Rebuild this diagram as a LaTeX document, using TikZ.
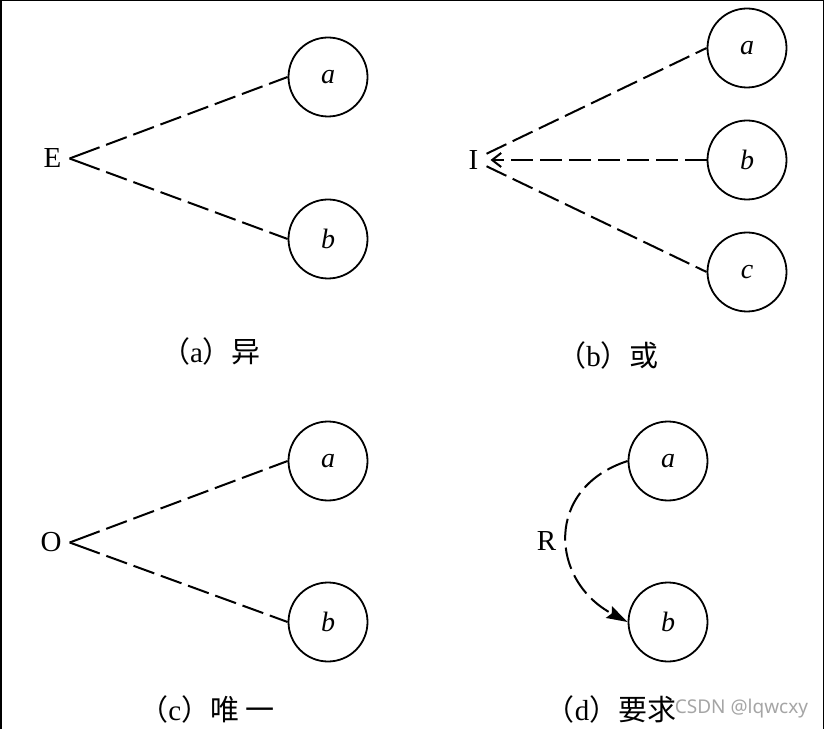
\documentclass[tikz,border=0pt]{standalone}
\usepackage{fontspec}
\setmainfont{Liberation Serif}
\newfontfamily\cjk{Noto Sans CJK SC}
\newfontfamily\wmfont{Noto Sans}
\usetikzlibrary{arrows.meta}
\definecolor{wmgray}{RGB}{165,165,165}

\begin{document}
\begin{tikzpicture}[
  x=1pt, y=1pt,
  ent/.style={draw, circle, line width=1.8pt, minimum size=79pt, inner sep=0pt, font=\fontsize{28}{32}\selectfont\itshape},
  rel/.style={inner sep=8pt, font=\fontsize{29}{34}\selectfont},
  subcap/.style={inner sep=0pt, font=\fontsize{29}{34}\selectfont},
  link/.style={line width=2pt, dash pattern=on 22pt off 7pt},
  chev/.style={line width=2pt, dash pattern=on 32pt off 7pt on 22pt off 7pt on 22pt off 7pt on 22pt off 7pt on 22pt off 7pt on 22pt off 7pt on 22pt off 7pt on 22pt off 7pt on 22pt off 7pt},
  orarrow/.style={link, -{Straight Barb[length=9pt,width=14pt]}},
  reqarrow/.style={link, -{Stealth[length=21pt,width=13pt,inset=3pt]}},
  wmark/.style={inner sep=0pt, text=wmgray, font=\wmfont\fontsize{19}{22}\selectfont}
]
\useasboundingbox (0,0) rectangle (824,729);
\draw[line width=1.5pt] (0.75,0) -- (0.75,728.25) -- (823.25,728.25) -- (823.25,0);

\node[rel] (E) at (52.5,570.5) {E};
\node[ent] (ea) at (328,652) {a};
\node[ent] (eb) at (328,490) {b};
\node[subcap] (capa) at (211,377.5) {{\cjk （}a{\cjk ）异}};

\node[rel] (I) at (473.5,569) {I};
\node[ent] (ia) at (747,681) {a};
\node[ent] (ib) at (747,569) {b};
\node[ent] (ic) at (747,457) {c};
\node[subcap] (capb) at (608,374) {{\cjk （}b{\cjk ）或}};

\node[rel] (O) at (51,186.5) {O};
\node[ent] (oa) at (328,268) {a};
\node[ent] (ob) at (328,107) {b};
\node[subcap] (capc) at (207,20) {{\cjk （}c{\cjk ）唯 一}};

\node[ent] (ra) at (668,268) {a};
\node[ent] (rb) at (668,107) {b};
\node[rel] (R) at (546.5,187.5) {R};
\node[subcap] (capd) at (611,20) {{\cjk （}d{\cjk ）要求}};
\node[wmark] (wm) at (741.5,20.5) {CSDN @lqwcxy};

\draw[chev] (E.east) -- (ea.west);
\draw[chev] (E.east) -- (eb.west);
\draw[link] (I) -- (ia.west);
\draw[orarrow, shorten >=4pt] (ib.west) -- (I.east);
\draw[link] (I) -- (ic.west);
\draw[chev] (O.east) -- (oa.west);
\draw[chev] (O.east) -- (ob.west);
\draw[reqarrow] (ra.west) to[out=198, in=152, looseness=1.4] (rb.west);
\end{tikzpicture}
\end{document}
